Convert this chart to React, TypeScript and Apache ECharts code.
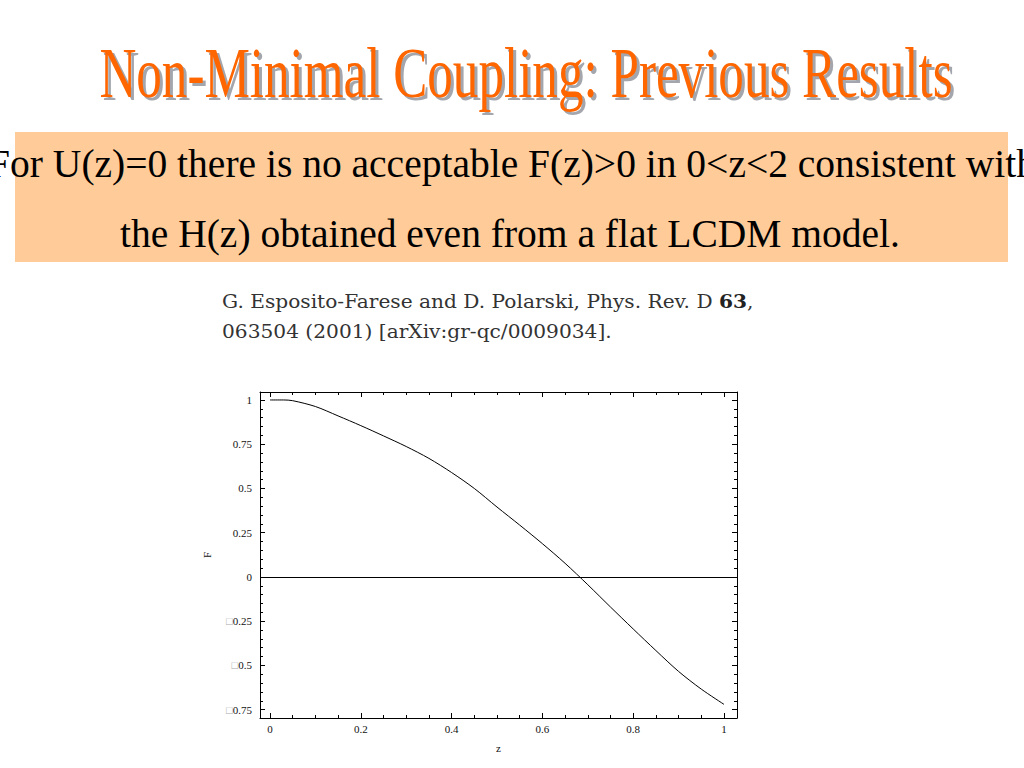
import React, { useEffect, useRef } from "react";
import * as echarts from "echarts";

const zValues = [0, 0.03, 0.05, 0.1, 0.15, 0.2, 0.25, 0.3, 0.35, 0.4, 0.45, 0.5, 0.55, 0.6, 0.65, 0.7, 0.75, 0.8, 0.85, 0.9, 0.95, 1.0];
const fValues = [1, 1, 0.996, 0.963, 0.91, 0.855, 0.797, 0.737, 0.67, 0.59, 0.5, 0.395, 0.293, 0.188, 0.077, -0.044, -0.17, -0.294, -0.416, -0.534, -0.634, -0.72];

const xMajorTicks = [0, 0.2, 0.4, 0.6, 0.8, 1];
const xMinorTicks = [0.05, 0.1, 0.15, 0.25, 0.3, 0.35, 0.45, 0.5, 0.55, 0.65, 0.7, 0.75, 0.85, 0.9, 0.95, 1.0];
const yMajorTicks = [-0.75, -0.5, -0.25, 0, 0.25, 0.5, 0.75, 1];
const yMinorTicks = [-0.7, -0.65, -0.6, -0.55, -0.45, -0.4, -0.35, -0.3, -0.2, -0.15, -0.1, -0.05, 0.05, 0.1, 0.15, 0.2, 0.3, 0.35, 0.4, 0.45, 0.55, 0.6, 0.65, 0.7, 0.8, 0.85, 0.9, 0.95];

const titleText = "Non-Minimal Coupling: Previous Results";
const boxLine1 = "For U(z)=0 there is no acceptable F(z)>0 in 0<z<2 consistent with";
const boxLine2 = "the H(z) obtained even from a flat LCDM model.";
const refLine1a = "G. Esposito-Farese and D. Polarski, Phys. Rev. D ";
const refLine1b = "63";
const refLine2 = "063504 (2001) [arXiv:gr-qc/0009034].";

const X_MIN = -0.022;
const X_MAX = 1.0286;
const Y_MIN = -0.797;
const Y_MAX = 1.045;

const SERIF = "'Liberation Serif', 'Times New Roman', serif";
const REFSERIF = "'DejaVu Serif', serif";

export default function App() {
  const ref = useRef<HTMLDivElement>(null);

  useEffect(() => {
    if (!ref.current) return;
    const chart = echarts.init(ref.current, undefined, { renderer: "svg" });

    const gridRect = { left: 260, top: 392, width: 477, height: 326 };
    const labelStyle = { fontFamily: SERIF, fontSize: 11, color: "#111" };

    const yFmt = (v: number) => {
      const r = Math.round(v * 100) / 100;
      if (r < 0) return "{b|\u25A1}" + String(Math.abs(r));
      return String(r);
    };

    const majorX = (pos: "bottom" | "top", gridIndex: number, labels: boolean, name?: string) => ({
      type: "value",
      gridIndex,
      position: pos,
      min: X_MIN,
      max: X_MAX,
      name: name,
      nameLocation: "middle",
      nameGap: 24,
      nameTextStyle: { fontFamily: SERIF, fontSize: 11, color: "#111" },
      axisLine: { show: true, onZero: false, lineStyle: { color: "#000", width: 1 } },
      axisTick: { show: true, inside: true, length: 5, customValues: xMajorTicks, lineStyle: { color: "#000" } },
      axisLabel: labels
        ? { show: true, customValues: xMajorTicks, margin: 5, ...labelStyle, formatter: (v: number) => String(Math.round(v * 10) / 10) }
        : { show: false },
      splitLine: { show: false },
    });
    const minorX = (pos: "bottom" | "top", gridIndex: number) => ({
      type: "value",
      gridIndex,
      position: pos,
      min: X_MIN,
      max: X_MAX,
      axisLine: { show: false, onZero: false },
      axisTick: { show: true, inside: true, length: 3, customValues: xMinorTicks, lineStyle: { color: "#000" } },
      axisLabel: { show: false },
      splitLine: { show: false },
    });
    const majorY = (pos: "left" | "right", gridIndex: number, labels: boolean, name?: string) => ({
      type: "value",
      gridIndex,
      position: pos,
      min: Y_MIN,
      max: Y_MAX,
      name: name,
      nameLocation: "middle",
      nameGap: 48,
      nameRotate: 90,
      nameTextStyle: { fontFamily: SERIF, fontSize: 11, color: "#111" },
      axisLine: { show: true, onZero: false, lineStyle: { color: "#000", width: 1 } },
      axisTick: { show: true, inside: true, length: 5, customValues: yMajorTicks, lineStyle: { color: "#000" } },
      axisLabel: labels
        ? {
            show: true,
            customValues: yMajorTicks,
            margin: 8,
            ...labelStyle,
            formatter: yFmt,
            rich: { b: { color: "#aaa", fontFamily: SERIF, fontSize: 11 } },
          }
        : { show: false },
      splitLine: { show: false },
    });
    const minorY = (pos: "left" | "right", gridIndex: number) => ({
      type: "value",
      gridIndex,
      position: pos,
      min: Y_MIN,
      max: Y_MAX,
      axisLine: { show: false, onZero: false },
      axisTick: { show: true, inside: true, length: 3, customValues: yMinorTicks, lineStyle: { color: "#000" } },
      axisLabel: { show: false },
      splitLine: { show: false },
    });

    const titleCx = 526;
    const titleY = 37;
    const titleScale = 0.71;
    const refScale = 1.12;

    chart.setOption({
      animation: false,
      backgroundColor: "#ffffff",
      grid: [
        { ...gridRect, containLabel: false },
        { ...gridRect, containLabel: false },
      ],
      xAxis: [
        majorX("bottom", 0, true, "z"),
        majorX("top", 0, false),
        minorX("bottom", 1),
        minorX("top", 1),
      ],
      yAxis: [
        majorY("left", 0, true, "F"),
        majorY("right", 0, false),
        minorY("left", 1),
        minorY("right", 1),
      ],
      series: [
        {
          type: "line",
          xAxisIndex: 0,
          yAxisIndex: 0,
          data: zValues.map((z, i) => [z, fValues[i]]),
          showSymbol: false,
          smooth: 0.3,
          lineStyle: { color: "#000", width: 1 },
          markLine: {
            silent: true,
            symbol: "none",
            label: { show: false },
            lineStyle: { color: "#000", width: 1, type: "solid" },
            data: [{ yAxis: 0 }],
          },
        },
      ],
      graphic: [
        {
          type: "rect",
          shape: { x: 15, y: 132, width: 993, height: 130 },
          style: { fill: "#FFCC99" },
          z: -1,
        },
        {
          type: "group",
          x: titleCx,
          y: titleY,
          scaleX: titleScale,
          children: [
            {
              type: "text",
              x: 3 / titleScale,
              y: 3,
              style: {
                text: titleText,
                fontFamily: SERIF,
                fontSize: 72,
                fill: "#A4A6AE",
                align: "center",
                verticalAlign: "top",
              },
            },
            {
              type: "text",
              x: 0,
              y: 0,
              style: {
                text: titleText,
                fontFamily: SERIF,
                fontSize: 72,
                fill: "#FF6600",
                align: "center",
                verticalAlign: "top",
              },
            },
          ],
        },
        {
          type: "text",
          x: 512,
          y: 144,
          style: {
            text: boxLine1,
            fontFamily: SERIF,
            fontSize: 39.5,
            fill: "#000",
            align: "center",
            verticalAlign: "top",
          },
        },
        {
          type: "text",
          x: 510,
          y: 214,
          style: {
            text: boxLine2,
            fontFamily: SERIF,
            fontSize: 39.5,
            fill: "#000",
            align: "center",
            verticalAlign: "top",
          },
        },
        {
          type: "group",
          x: 222,
          y: 293,
          scaleX: refScale,
          children: [
            {
              type: "text",
              x: 0,
              y: 0,
              style: {
                text: "{n|" + refLine1a + "}{bd|" + refLine1b + "}{n|,}",
                rich: {
                  n: { fontFamily: REFSERIF, fontSize: 18, fill: "#333" },
                  bd: { fontFamily: REFSERIF, fontSize: 18, fontWeight: "bold", fill: "#222" },
                },
                verticalAlign: "top",
              },
            },
            {
              type: "text",
              x: 0,
              y: 30,
              style: {
                text: refLine2,
                fontFamily: REFSERIF,
                fontSize: 18,
                fill: "#333",
                verticalAlign: "top",
              },
            },
          ],
        },
      ],
    });

    return () => chart.dispose();
  }, []);

  return (
    <div style={{ position: "absolute", left: 0, top: 0, width: 1024, height: 768, overflow: "hidden" }}>
      <div ref={ref} style={{ width: 1024, height: 768 }} />
    </div>
  );
}
